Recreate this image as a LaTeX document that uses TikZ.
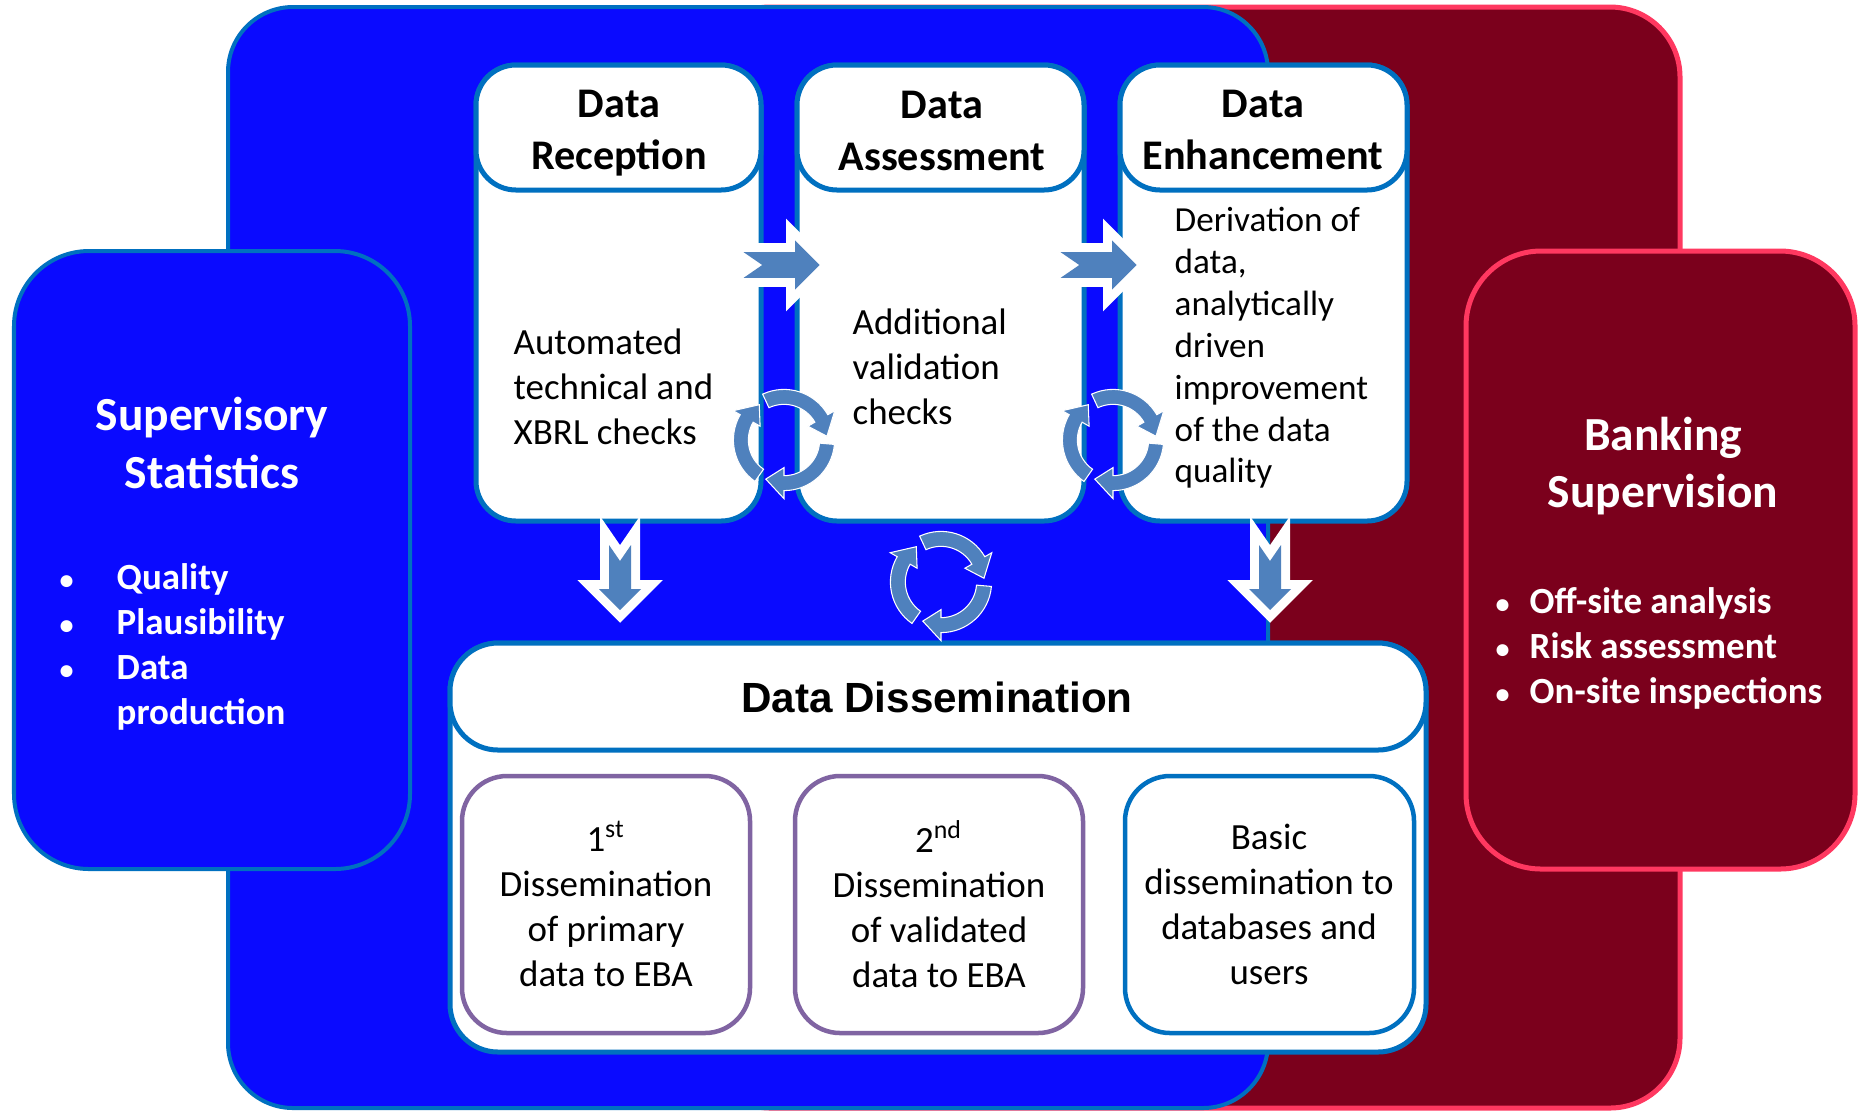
\documentclass[tikz,border=0pt]{standalone}
\usepackage{fontspec}
\setmainfont{Carlito}
\newfontfamily\arialfont{Liberation Sans}
\usepackage{tikz}
\usepackage{xcolor}

\definecolor{panelblue}{HTML}{0A0AFF}
\definecolor{edgeblue}{HTML}{0070C0}
\definecolor{panelred}{HTML}{7B001C}
\definecolor{edgered}{HTML}{FF3860}
\definecolor{arrowblue}{HTML}{4F81BD}
\definecolor{edgepurple}{HTML}{8064A2}

\newcommand{\listdot}{{\fontsize{8}{8}\selectfont\textbullet}}

\tikzset{
  bluepanel/.style={draw=edgeblue, fill=panelblue, line width=0.04cm},
  redpanel/.style={draw=edgered, fill=panelred, line width=0.05cm},
  stagebox/.style={draw=edgeblue, fill=white, line width=0.05cm, rounded corners=0.4cm},
  dissbox/.style={draw=#1, fill=white, line width=0.045cm, rounded corners=0.45cm},
  stagehead/.style={font=\fontsize{12}{14.6}\selectfont\bfseries},
  stagetext/.style={font=\fontsize{10.5}{12.8}\selectfont, align=left, anchor=west},
  disstext/.style={font=\fontsize{10.5}{12.8}\selectfont},
  paneltitle/.style={font=\fontsize{13.5}{16.4}\selectfont\bfseries, text=white},
  panellist/.style={font=\fontsize{10.5}{12.8}\selectfont\bfseries, text=white, align=left, anchor=west},
  % block arrow with notched tail, pointing along +x
  notcharrow/.pic={
    \fill[arrowblue, preaction={draw=white, line width=0.18cm, line join=miter}]
      (-32,-11) -- (12,-11) -- (12,-21) -- (33,0) -- (12,21) -- (12,11)
      -- (-32,11) -- (-16,0) -- cycle;
  },
  % three arrows chasing round a circle
  recycle/.pic={
    \foreach \s in {-115,5,125}
      \draw[fill=arrowblue, draw=white, line width=0.3pt]
        (\s:44) arc[start angle=\s, end angle=\s+85, radius=44]
        -- (\s+85:51) -- (\s+110:37.5) -- (\s+85:24) -- (\s+85:31)
        arc[start angle=\s+85, end angle=\s, radius=31] -- cycle;
  }
}

\begin{document}
\begin{tikzpicture}[x=0.01cm, y=-0.01cm, every node/.style={inner sep=0pt, align=center}]
  \fill[white] (0,0) rectangle (1858,1111);
  \useasboundingbox (0,0) rectangle (1858,1111);

  % Big panels
  \draw[redpanel, rounded corners=0.7cm] (700,7) rectangle (1680,1108);
  \draw[bluepanel, rounded corners=0.65cm] (228,7) rectangle (1268,1108);

  % Side panels
  \draw[bluepanel, rounded corners=0.75cm] (14,251) rectangle (410,869);
  \draw[redpanel, rounded corners=0.75cm] (1466,251) rectangle (1855,869);

  % Stage boxes (body, then header on top)
  \draw[stagebox] (476,65) rectangle (761,521);
  \draw[stagebox] (476,65) rectangle (761,190);
  \draw[stagebox] (797,65) rectangle (1084,521);
  \draw[stagebox] (797,65) rectangle (1084,190);
  \draw[stagebox] (1120,65) rectangle (1407,521);
  \draw[stagebox] (1120,65) rectangle (1407,190);

  % Dissemination box
  \draw[stagebox, rounded corners=0.48cm] (450,643) rectangle (1426,1052);
  \draw[stagebox, rounded corners=0.48cm] (450,643) rectangle (1426,750);
  \draw[dissbox=edgepurple] (462,776) rectangle (750,1033);
  \draw[dissbox=edgepurple] (795,776) rectangle (1083,1033);
  \draw[dissbox=edgeblue] (1125,776) rectangle (1414,1033);

  % Arrows
  \pic[scale=1.17] (flowA) at (781,265) {notcharrow};
  \pic[scale=1.17] (flowB) at (1098,265) {notcharrow};
  \pic[rotate=-90] (downA) at (620,577) {notcharrow};
  \pic[rotate=-90] (downB) at (1270,577) {notcharrow};
  \pic[scale=1.15] (cycA) at (784,440) {recycle};
  \pic[scale=1.15] (cycB) at (1113,440) {recycle};
  \pic[scale=1.15] (cycC) at (941,582) {recycle};

  % Stage labels
  \node[stagehead] (recHead) at (619,133) {Data\\Reception};
  \node[stagehead] (assHead) at (942,131) {Data\\Assessment};
  \node[stagehead] (enhHead) at (1263,130) {Data\\Enhancement};
  \node[stagetext] (recText) at (513,387) {Automated\\technical and\\XBRL checks};
  \node[stagetext] (assText) at (852,367) {Additional\\validation\\checks};
  \node[stagetext, font=\fontsize{10}{11.9}\selectfont] (enhText) at (1174,348)
    {Derivation of\\data,\\analytically\\driven\\improvement\\of the data\\quality};

  % Dissemination labels
  \node[font=\arialfont\fontsize{12}{14.4}\selectfont\bfseries] (dissHead) at (937,697) {Data Dissemination};
  \node[disstext] (dissA) at (606,904) {1\textsuperscript{st}\\Dissemination\\of primary\\data to EBA};
  \node[disstext] (dissB) at (939,904) {2\textsuperscript{nd}\\Dissemination\\of validated\\data to EBA};
  \node[disstext] (dissC) at (1269,904) {Basic\\dissemination to\\databases and\\users};

  % Side panel labels
  \node[paneltitle] (supTitle) at (212,443) {Supervisory\\Statistics};
  \node[panellist] (supList) at (59,647)
    {\makebox[0.57cm][l]{\listdot}Quality\\
     \makebox[0.57cm][l]{\listdot}Plausibility\\
     \makebox[0.57cm][l]{\listdot}Data\\
     \hspace*{0.57cm}production};
  \node[paneltitle] (bankTitle) at (1663,466) {Banking\\Supervision};
  \node[panellist] (bankList) at (1495,648)
    {\makebox[0.34cm][l]{\listdot}Off-site analysis\\
     \makebox[0.34cm][l]{\listdot}Risk assessment\\
     \makebox[0.34cm][l]{\listdot}On-site inspections};
\end{tikzpicture}
\end{document}
